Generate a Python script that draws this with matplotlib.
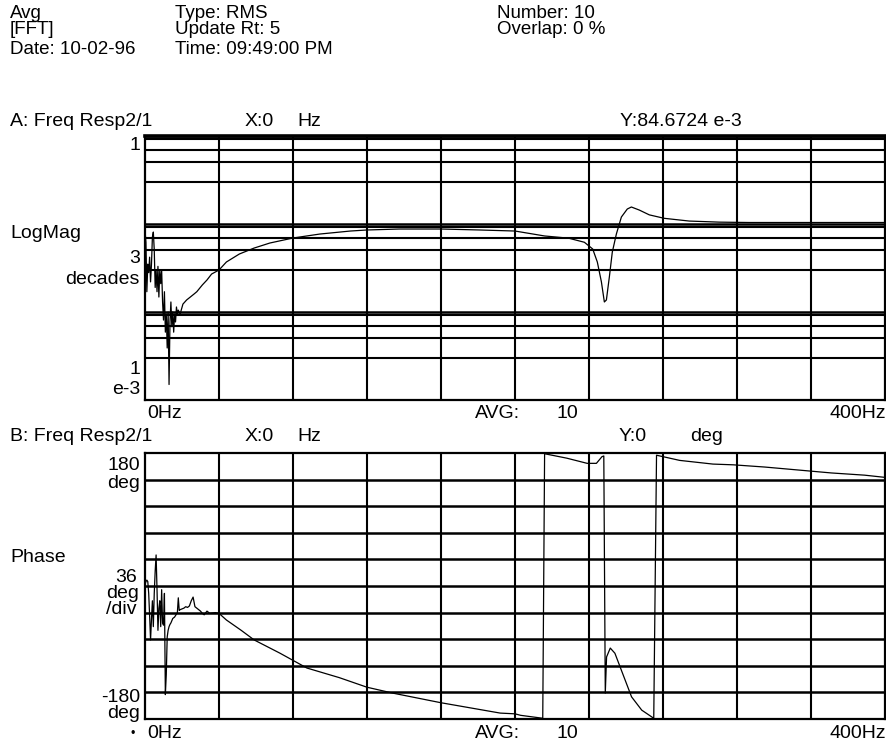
import numpy as np
import matplotlib
matplotlib.use("Agg")
import matplotlib.pyplot as plt

plt.rcParams["font.family"] = ["Liberation Sans", "DejaVu Sans"]

W, H = 886, 747

# --------------------------------------------------
# DATA
# --------------------------------------------------
# Trace A: log magnitude of Freq Resp2/1
mag_hz = [
    0.0, 0.5, 1.0, 1.5, 2.0, 2.5, 3.0, 3.5, 4.0, 4.5, 5.0, 5.5, 6.0, 6.5,
    7.0, 7.5, 8.0, 8.5, 9.0, 9.5, 10.0, 10.5, 11.0, 11.5, 12.0, 12.5, 13.0,
    13.5, 14.0, 14.5, 15.0, 15.5, 16.0, 16.5, 17.0, 17.5, 18.0, 19.0, 20.5,
    22.5, 24.5, 26.5, 28.0, 31.0, 33.5, 36.0, 40.0, 44.0, 51.0, 59.0, 67.5,
    80.0, 94.5, 111.0, 120.0, 137.6, 160.0, 181.0, 200.0, 216.0, 229.0,
    237.5, 242.0, 244.5, 246.7, 248.3, 249.4, 251.0, 252.6, 254.8, 257.5,
    260.7, 262.9, 267.2, 272.6, 280.7, 294.2, 310.4, 326.6, 353.6, 400.0,
]
mag_val = [
    0.0847, 0.062, 0.017, 0.035, 0.028, 0.042, 0.022, 0.035, 0.071, 0.081,
    0.051, 0.019, 0.030, 0.017, 0.033, 0.0148, 0.030, 0.021, 0.030, 0.013,
    0.0081, 0.017, 0.0059, 0.0095, 0.0039, 0.010, 0.0015, 0.0077, 0.013,
    0.0068, 0.010, 0.0059, 0.0095, 0.0077, 0.0114, 0.0095, 0.0105, 0.0095,
    0.0123, 0.0137, 0.0148, 0.016, 0.017, 0.0203, 0.0231, 0.027, 0.030,
    0.037, 0.0456, 0.0533, 0.0608, 0.0693, 0.0769, 0.0832, 0.0855, 0.0877,
    0.0877, 0.0855, 0.0832, 0.0731, 0.069, 0.062, 0.052, 0.037, 0.022,
    0.013, 0.0137, 0.025, 0.048, 0.077, 0.12, 0.148, 0.156, 0.144, 0.127,
    0.116, 0.108, 0.105, 0.104, 0.104, 0.104,
]

# Trace B: phase of Freq Resp2/1 (deg, wrapped)
ph_hz = [
    0.0, 0.5, 1.0, 1.5, 2.0, 2.5, 3.0, 3.5, 4.0, 4.5, 5.0, 5.5, 6.0, 6.5,
    7.0, 7.5, 8.0, 8.5, 9.0, 9.5, 10.0, 10.5, 11.0, 11.5, 12.0, 12.5, 13.0,
    13.5, 14.0, 15.0, 16.0, 17.0, 17.5, 18.0, 18.5, 19.0, 20.0, 21.0, 22.0,
    23.0, 24.0, 25.0, 26.0, 27.0, 28.0, 29.0, 30.0, 31.0, 32.0, 33.5, 35.0,
    38.0, 40.0, 44.0, 52.0, 59.0, 73.0, 87.5, 105.0, 120.0, 134.0, 160.0,
    192.0, 200.0, 203.0, 215.0, 216.0, 228.0, 239.0, 244.0, 247.0, 248.0,
    248.8, 249.5, 251.5, 254.0, 257.5, 263.0, 268.5, 275.0, 276.5, 289.0,
    307.0, 318.0, 335.0, 353.0, 371.0, 389.0, 400.0,
]
ph_deg = [
    2, 6, 8, 6, -10, -40, -73, -45, -20, -55, -10, 20, 42, -5, -60, -30,
    -20, -55, -5, -50, -53, -10, -147, -120, -69, -60, -55, -52, -50, -44,
    -42, -38, -36, -16, -33, -32, -31, -30, -28, -29, -27, -20, -15, -28,
    -30, -32, -34, -37, -39, -34, -37, -36, -37, -46, -60, -73, -91, -111,
    -124, -137, -145, -158, -172, -173, -175, -179, 179, 173, 166, 166, 175,
    176, -145, -96, -84, -91, -114, -150, -168, -179, 177, 170, 165, 164,
    161, 157, 153, 150, 147,
]

header = [
    (10, 13, "Avg"), (10, 30, "[FFT]"), (10, 49, "Date: 10-02-96"),
    (175, 13, "Type: RMS"), (175, 30, "Update Rt: 5"),
    (175, 49, "Time: 09:49:00 PM"),
    (497, 13, "Number: 10"), (497, 30, "Overlap: 0 %"),
]


def fx(x):
    return x / W


def fy(y):
    return 1 - y / H


fig = plt.figure(figsize=(W / 100, H / 100), dpi=100)
fig.patch.set_facecolor("white")

FS = 14
LINE = dict(color="black", lw=1.5, zorder=1)


def txt(x, y, s, ha="left", size=FS):
    fig.text(fx(x), fy(y), s, ha=ha, va="center", fontsize=size)


def frame(ax):
    ax.set_xlim(0, 400)
    ax.set_xticks([])
    ax.set_yticks([])
    ax.minorticks_off()
    for sp in ax.spines.values():
        sp.set_linewidth(1.6)
    for f in range(40, 400, 40):
        ax.axvline(f, **LINE)


# --------------------------------------------------
# A: LOG MAGNITUDE
# --------------------------------------------------
axA = fig.add_axes([fx(145), fy(400), fx(885) - fx(145), fy(136) - fy(400)])
axA.set_yscale("log")
axA.set_ylim(1e-3, 1)
frame(axA)
axA.tick_params(which="both", left=False, labelleft=False)
for dec in [1e-3, 1e-2, 1e-1]:
    for m in [3, 5, 7]:
        axA.axhline(dec * m, **LINE)
for dec in [1.0, 0.1, 0.01]:
    axA.axhline(dec, color="black", lw=1.8, zorder=1)
    axA.axhline(dec * 0.925, color="black", lw=1.5, zorder=1)
axA.spines["top"].set_linewidth(2.6)
axA.plot(mag_hz, mag_val, color="black", lw=0.9, zorder=3)

# --------------------------------------------------
# B: PHASE
# --------------------------------------------------
axB = fig.add_axes([fx(145), fy(719), fx(885) - fx(145), fy(453) - fy(719)])
axB.set_ylim(-180, 180)
frame(axB)
for d in range(-144, 180, 36):
    axB.axhline(d, color="black", lw=1.8, zorder=1)
axB.plot(ph_hz, ph_deg, color="black", lw=0.9, zorder=3)

# --------------------------------------------------
# TEXT
# --------------------------------------------------
for x, y, s in header:
    txt(x, y, s, size=13.5)

txt(10, 122, "A: Freq Resp2/1")
txt(245, 122, "X:0")
txt(297, 122, "Hz")
txt(620, 122, "Y:84.6724 e-3")
txt(140, 146, "1", ha="right")
txt(10, 234, "LogMag")
txt(140, 258, "3", ha="right")
txt(140, 280, "decades", ha="right")
txt(140, 370, "1", ha="right")
txt(140, 389, "e-3", ha="right")
txt(147, 414, "0Hz")
txt(475, 414, "AVG:")
txt(557, 414, "10")
txt(886, 414, "400Hz", ha="right")

txt(10, 437, "B: Freq Resp2/1")
txt(245, 437, "X:0")
txt(297, 437, "Hz")
txt(619, 437, "Y:0")
txt(690, 437, "deg")
txt(140, 465, "180", ha="right")
txt(140, 483, "deg", ha="right")
txt(10, 557, "Phase")
txt(137, 578, "36", ha="right")
txt(139, 594, "deg", ha="right")
txt(137, 610, "/div", ha="right")
txt(140, 697, "-180", ha="right")
txt(140, 714, "deg", ha="right")
txt(135, 734, "\u2022", ha="right", size=9)
txt(147, 734, "0Hz")
txt(475, 734, "AVG:")
txt(557, 734, "10")
txt(886, 734, "400Hz", ha="right")

fig.savefig("out.png", dpi=100)
